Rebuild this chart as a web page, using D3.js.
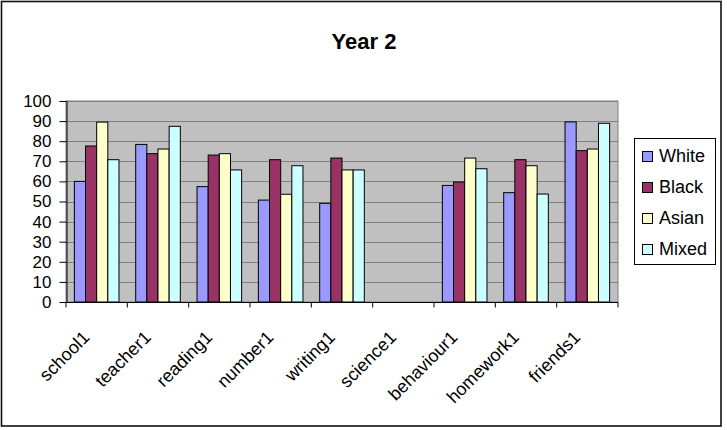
<!DOCTYPE html>
<html>
<head>
<meta charset="utf-8">
<script src="https://cdn.jsdelivr.net/npm/d3@7"></script>
<style>
  body { margin: 0; background: #fff; }
  text { font-family: "Liberation Sans", Arial, sans-serif; }
</style>
</head>
<body>
<svg width="727" height="430"></svg>
<script>
// chart data
var categories = ["school1", "teacher1", "reading1", "number1", "writing1", "science1", "behaviour1", "homework1", "friends1"];
var seriesNames = ["White", "Black", "Asian", "Mixed"];
var seriesColors = ["#9999FF", "#993366", "#FFFFCC", "#CCFFFF"];
var white = [60, 78.4, 57.4, 50.7, 49.1, null, 58, 54.4, 89.6];
var black = [77.6, 73.8, 73.1, 70.8, 71.6, null, 59.7, 70.8, 75.3];
var asian = [89.5, 76.1, 73.8, 53.6, 65.7, null, 71.6, 67.8, 76.1];
var mixed = [70.8, 87.4, 65.7, 67.8, 65.7, null, 66.3, 53.7, 88.9];
var yTicks = [0, 10, 20, 30, 40, 50, 60, 70, 80, 90, 100];

var seriesValues = [white, black, asian, mixed];

var svg = d3.select("svg");

// outer frame
svg.append("rect")
  .attr("x", 1.5).attr("y", 1.5)
  .attr("width", 719.5).attr("height", 424.5)
  .attr("fill", "#fff").attr("stroke", "#111").attr("stroke-width", 1.6);

// title
svg.append("text")
  .attr("x", 364).attr("y", 49)
  .attr("text-anchor", "middle")
  .attr("font-size", 22).attr("font-weight", "bold")
  .text("Year 2");

var plot = { left: 66, right: 618, top: 101, bottom: 302 };

var x = d3.scaleBand()
  .domain(categories)
  .range([plot.left, plot.right])
  .paddingInner(0).paddingOuter(0);

// excel style: gap width 150% of a bar
var barW = x.bandwidth() / (seriesNames.length + 1.5);
var xs = d3.scaleBand()
  .domain(seriesNames)
  .range([barW * 0.75, barW * 0.75 + barW * seriesNames.length]);

var y = d3.scaleLinear().domain([0, 100]).range([plot.bottom, plot.top]);

// plot background
svg.append("rect")
  .attr("x", plot.left).attr("y", plot.top)
  .attr("width", plot.right - plot.left).attr("height", plot.bottom - plot.top)
  .attr("fill", "#C0C0C0").attr("stroke", "#808080");

// gridlines
svg.append("g")
  .selectAll("line")
  .data(yTicks.filter(function (t) { return t > 0; }))
  .enter().append("line")
  .attr("x1", plot.left).attr("x2", plot.right)
  .attr("y1", function (t) { return Math.round(y(t)) + 0.5; })
  .attr("y2", function (t) { return Math.round(y(t)) + 0.5; })
  .attr("stroke", "#808080").attr("stroke-width", 1);

// bars
seriesNames.forEach(function (name, si) {
  svg.append("g")
    .selectAll("rect")
    .data(seriesValues[si].map(function (v, i) { return { cat: categories[i], v: v }; })
      .filter(function (d) { return d.v !== null; }))
    .enter().append("rect")
    .attr("x", function (d) { return x(d.cat) + xs(name); })
    .attr("width", xs.bandwidth())
    .attr("y", function (d) { return y(d.v); })
    .attr("height", function (d) { return y(0) - y(d.v); })
    .attr("fill", seriesColors[si])
    .attr("stroke", "#000").attr("stroke-width", 1);
});

// y axis
var yAxis = svg.append("g")
  .attr("transform", "translate(" + (plot.left + 0.5) + ",0)")
  .call(d3.axisLeft(y).tickValues(yTicks).tickSize(7).tickSizeOuter(0));
yAxis.selectAll("text").attr("font-size", 17).attr("fill", "#000")
  .attr("font-family", "Liberation Sans, Arial, sans-serif").attr("x", -15);
yAxis.selectAll("line, path").attr("stroke", "#000");

// x axis
var xAxis = svg.append("g")
  .attr("transform", "translate(0," + (plot.bottom + 0.5) + ")");
xAxis.append("line")
  .attr("x1", plot.left).attr("x2", plot.right)
  .attr("stroke", "#000");
xAxis.selectAll(".tk")
  .data(categories.concat(["end"]))
  .enter().append("line")
  .attr("class", "tk")
  .attr("x1", function (d, i) { return plot.left + i * x.step(); })
  .attr("x2", function (d, i) { return plot.left + i * x.step(); })
  .attr("y1", 0).attr("y2", 5)
  .attr("stroke", "#000");
xAxis.selectAll(".lbl")
  .data(categories)
  .enter().append("text")
  .attr("class", "lbl")
  .attr("text-anchor", "end")
  .attr("font-size", 18)
  .attr("transform", function (d) {
    return "translate(" + (x(d) + x.bandwidth() / 2 - 6) + ",36) rotate(-45)";
  })
  .text(function (d) { return d; });

// legend
var legend = svg.append("g");
legend.append("rect")
  .attr("x", 634.5).attr("y", 138.5)
  .attr("width", 81).attr("height", 126)
  .attr("fill", "#fff").attr("stroke", "#000");
seriesNames.forEach(function (name, i) {
  var ly = 157 + i * 31;
  legend.append("rect")
    .attr("x", 642.5).attr("y", ly - 5.5)
    .attr("width", 10).attr("height", 10)
    .attr("fill", seriesColors[i]).attr("stroke", "#000");
  legend.append("text")
    .attr("x", 659).attr("y", ly + 5)
    .attr("font-size", 18)
    .text(name);
});
</script>
</body>
</html>
